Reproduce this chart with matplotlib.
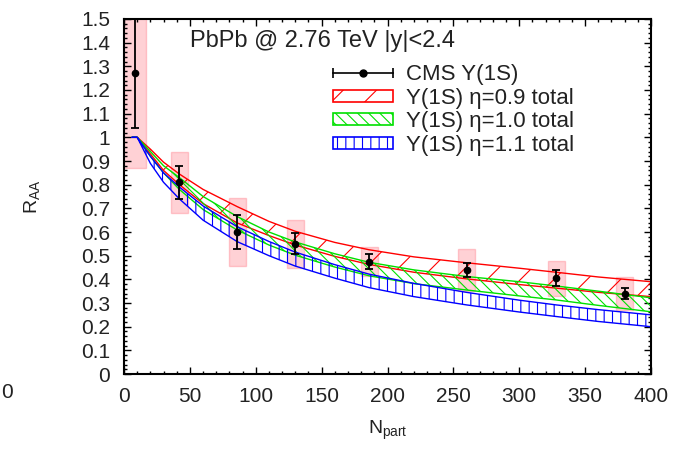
import matplotlib.pyplot as plt
from matplotlib.patches import Patch
from matplotlib.lines import Line2D
from matplotlib.legend_handler import HandlerLine2D, HandlerTuple
from matplotlib.ticker import MultipleLocator

plt.rcParams['font.family'] = ['Liberation Sans', 'DejaVu Sans']
plt.rcParams['mathtext.fontset'] = 'custom'
plt.rcParams['mathtext.rm'] = 'Liberation Sans'
plt.rcParams['mathtext.it'] = 'Liberation Sans:italic'
plt.rcParams['mathtext.default'] = 'regular'
plt.rcParams['hatch.linewidth'] = 0.8

# CMS Upsilon(1S) RAA vs Npart
npart_cms = [8, 42, 86, 130, 186, 260, 328, 380]
raa_cms = [1.27, 0.81, 0.60, 0.55, 0.475, 0.44, 0.405, 0.34]
stat_cms = [0.23, 0.07, 0.07, 0.045, 0.032, 0.03, 0.034, 0.025]
syst_cms = [0.40, 0.13, 0.145, 0.10, 0.06, 0.088, 0.074, 0.068]

# model bands (lower / upper edge) for three eta values
npart_model = [6, 10, 20, 30, 42, 60, 86, 110, 130, 160, 186, 220, 260, 300, 328, 360, 400]
eta09_hi = [1.0, 1.0, 0.95, 0.895, 0.845, 0.78, 0.707, 0.645, 0.603, 0.556, 0.525, 0.495, 0.47, 0.447, 0.43, 0.41, 0.39]
eta09_lo = [1.0, 1.0, 0.93, 0.86, 0.80, 0.72, 0.638, 0.585, 0.545, 0.497, 0.463, 0.43, 0.402, 0.378, 0.363, 0.345, 0.327]
eta10_hi = [1.0, 1.0, 0.94, 0.88, 0.83, 0.75, 0.665, 0.60, 0.558, 0.508, 0.472, 0.44, 0.412, 0.39, 0.372, 0.35, 0.322]
eta10_lo = [1.0, 1.0, 0.92, 0.85, 0.78, 0.695, 0.608, 0.545, 0.502, 0.452, 0.415, 0.382, 0.355, 0.33, 0.313, 0.29, 0.263]
eta11_hi = [1.0, 1.0, 0.92, 0.85, 0.79, 0.71, 0.622, 0.56, 0.515, 0.462, 0.422, 0.383, 0.345, 0.312, 0.292, 0.272, 0.25]
eta11_lo = [1.0, 1.0, 0.89, 0.81, 0.74, 0.65, 0.559, 0.50, 0.456, 0.405, 0.365, 0.327, 0.292, 0.262, 0.243, 0.222, 0.20]

band_labels = [u"Y(1S) \u03b7=0.9 total", u"Y(1S) \u03b7=1.0 total", u"Y(1S) \u03b7=1.1 total"]

# style
box_width = [17, 13, 13, 13, 13, 13, 13, 13]
band_colors = ['#ff0000', '#00e000', '#0000ff']
band_hatch = ['/', '\\\\\\', '||']
axis_width = 1.5
font_size = 15
text_color = '#222222'

fig = plt.figure(figsize=(6.73, 4.49), dpi=100)
ax = fig.add_axes([0.1843, 0.167, 0.7830, 0.7907])

# systematic boxes
box_bottom = [r - s for r, s in zip(raa_cms, syst_cms)]
box_height = [2 * s for s in syst_cms]
ax.bar(npart_cms, box_height, bottom=box_bottom, width=box_width,
       color='#ff9aa2', alpha=0.45, edgecolor='#ff8a95', linewidth=1, zorder=1)

# model bands
bands = [(eta09_lo, eta09_hi), (eta10_lo, eta10_hi), (eta11_lo, eta11_hi)]
for (lo, hi), c, h in zip(bands, band_colors, band_hatch):
    ax.fill_between(npart_model, lo, hi, facecolor='none', edgecolor=c,
                    hatch=h, linewidth=1.0, zorder=2)

# data points
ax.errorbar(npart_cms, raa_cms, yerr=stat_cms, fmt='o', color='k', ms=4.5,
            elinewidth=1.3, capsize=3, capthick=1.3, zorder=4)

ax.set_xlim(0, 400)
ax.set_ylim(0, 1.5)
ax.xaxis.set_major_locator(MultipleLocator(50))
ax.xaxis.set_minor_locator(MultipleLocator(10))
ax.yaxis.set_major_locator(MultipleLocator(0.1))
ax.yaxis.set_minor_locator(MultipleLocator(0.02))
ax.yaxis.set_major_formatter(plt.FuncFormatter(lambda v, p: '%g' % round(v, 2)))

for s in ax.spines.values():
    s.set_linewidth(axis_width)
ax.tick_params(which='both', direction='in', top=True, right=True,
               labelsize=font_size, labelcolor=text_color, width=1.0)
ax.tick_params(which='major', length=5)
ax.tick_params(which='minor', length=2.5)
ax.tick_params(axis='x', pad=9)
ax.tick_params(axis='y', pad=10)

ax.set_xlabel('N$_{part}$', fontsize=14, color=text_color)
ax.set_ylabel('R$_{AA}$', fontsize=14, color=text_color)
ax.xaxis.set_label_coords(0.5, -0.125)
ax.yaxis.set_label_coords(-0.155, 0.5)

ax.text(0.125, 0.938, 'PbPb @ 2.76 TeV |y|<2.4', transform=ax.transAxes,
        fontsize=17, color=text_color, va='center', ha='left')

# legend
cms_line = Line2D([], [], color='k', lw=1.2, marker='o', ms=5)
cms_caps = Line2D([], [], color='k', lw=0, marker='|', ms=7, mew=1.2)
handles = [(cms_line, cms_caps)]
for c, h in zip(band_colors, band_hatch):
    handles.append(Patch(facecolor='white', edgecolor=c, hatch=h, linewidth=1.2))
labels = ['CMS Y(1S)'] + band_labels
ax.legend(handles, labels, loc='upper left',
          bbox_to_anchor=(333 / 673, 1 - 64 / 449), bbox_transform=fig.transFigure,
          frameon=False, fontsize=16, borderpad=0, borderaxespad=0,
          handlelength=2.7, handleheight=0.45, handletextpad=0.6,
          labelspacing=0.12, labelcolor=text_color,
          handler_map={cms_caps: HandlerLine2D(numpoints=2, marker_pad=0),
                       tuple: HandlerTuple(ndivide=1)})

# tick label of the neighbouring panel, at the left edge
fig.text(12.5 / 673, 1 - 393 / 449, '0', fontsize=font_size, color=text_color,
         ha='right', va='center')

plt.savefig('out.png', dpi=100)
